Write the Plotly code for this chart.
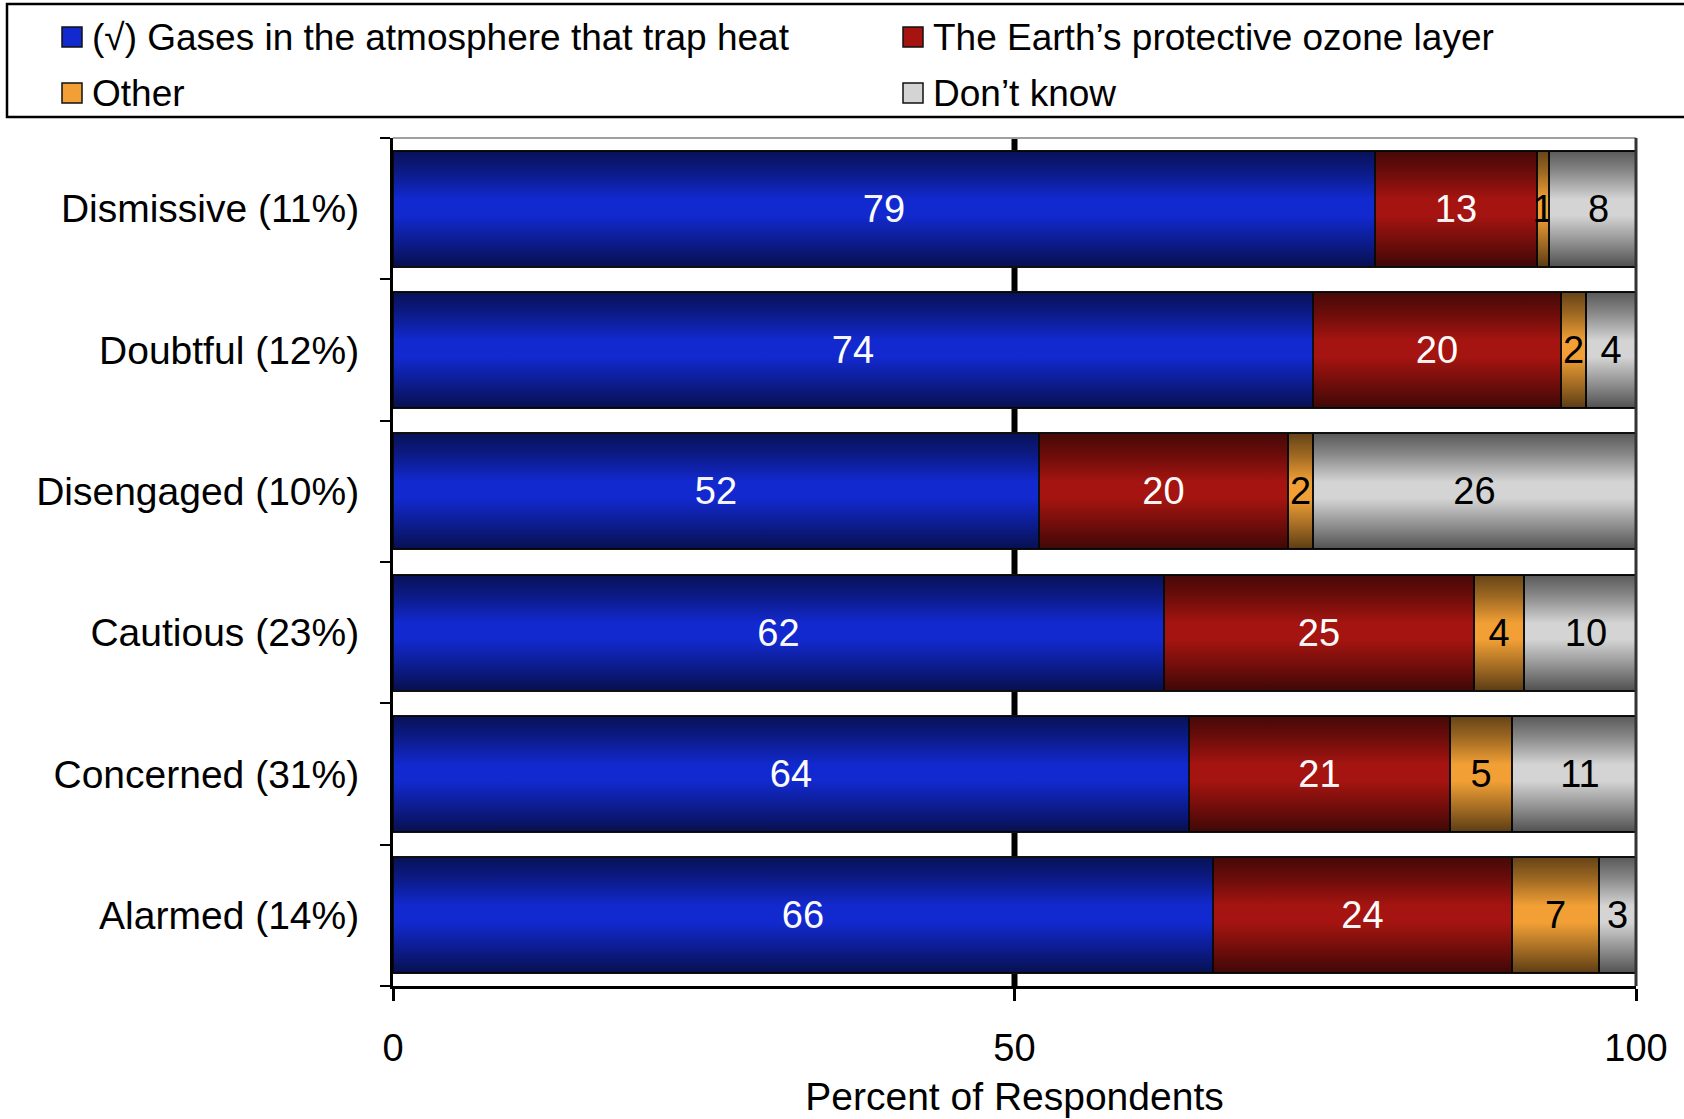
import base64
import plotly.graph_objects as go

# ---- data -------------------------------------------------------------
segments = [
    "Dismissive (11%)",
    "Doubtful (12%)",
    "Disengaged (10%)",
    "Cautious (23%)",
    "Concerned (31%)",
    "Alarmed (14%)",
]
gases = [79, 74, 52, 62, 64, 66]
ozone = [13, 20, 20, 25, 21, 24]
other = [1, 2, 2, 4, 5, 7]
dont_know = [8, 4, 26, 10, 11, 3]

series_names = [
    "(\u221a) Gases in the atmosphere that trap heat",
    "The Earth\u2019s protective ozone layer",
    "Other",
    "Don\u2019t know",
]
x_ticks = [0, 50, 100]
x_title = "Percent of Respondents"

# ---- styling ----------------------------------------------------------
FONT = "Liberation Sans, Arial, Helvetica, sans-serif"
W, H = 1684, 1119
L, R, T, B = 393, 48, 138, 133
PW, PH = W - L - R, H - T - B
BAR_W = 0.82

colors = ["#1229cf", "#a51410", "#f2a035", "#d4d4d4"]
text_colors = ["white", "white", "black", "black"]
values = [gases, ozone, other, dont_know]

rows = list(range(len(segments)))

# vertical shading used to give the bars a rounded, lit look
shade_svg = (
    '<svg xmlns="http://www.w3.org/2000/svg" width="10" height="100" '
    'viewBox="0 0 10 100" preserveAspectRatio="none">'
    '<defs><linearGradient id="g" x1="0" y1="0" x2="0" y2="1">'
    '<stop offset="0" stop-color="#000" stop-opacity="0.58"/>'
    '<stop offset="0.18" stop-color="#000" stop-opacity="0.36"/>'
    '<stop offset="0.42" stop-color="#000" stop-opacity="0"/>'
    '<stop offset="0.56" stop-color="#000" stop-opacity="0"/>'
    '<stop offset="0.82" stop-color="#000" stop-opacity="0.36"/>'
    '<stop offset="1" stop-color="#000" stop-opacity="0.62"/>'
    '</linearGradient></defs>'
    '<rect width="10" height="100" fill="url(#g)"/></svg>'
)
shade_src = "data:image/svg+xml;base64," + base64.b64encode(shade_svg.encode()).decode()


def px_x(px):
    return (px - L) / PW


def px_y(py):
    return (H - B - py) / PH


fig = go.Figure()

for name, vals, col, tcol in zip(series_names, values, colors, text_colors):
    fig.add_trace(
        go.Bar(
            name=name,
            orientation="h",
            y=rows,
            x=vals,
            width=BAR_W,
            marker=dict(color=col, line=dict(color="#111111", width=2)),
            text=[str(v) for v in vals],
            textposition="inside",
            insidetextanchor="middle",
            textangle=0,
            constraintext="none",
            textfont=dict(family=FONT, size=38, color=tcol),
            showlegend=False,
        )
    )

images = []
for i in rows:
    images.append(
        dict(
            source=shade_src, xref="x", yref="y",
            x=0, y=i - BAR_W / 2, sizex=100, sizey=BAR_W,
            xanchor="left", yanchor="top", sizing="stretch", layer="above",
        )
    )

shapes = [
    # gridline at 50 behind the bars
    dict(type="line", xref="x", yref="paper", x0=50, x1=50, y0=0, y1=1,
         line=dict(color="black", width=6), layer="below"),
    # top and right edges of the plot frame
    dict(type="line", xref="paper", yref="paper", x0=0, x1=1, y0=1, y1=1,
         line=dict(color="#a0a0a0", width=2)),
    dict(type="line", xref="paper", yref="paper", x0=1, x1=1, y0=0, y1=1,
         line=dict(color="#333333", width=3)),
    # legend box
    dict(type="rect", xref="paper", yref="paper",
         x0=px_x(7), x1=px_x(1710), y0=px_y(117), y1=px_y(4),
         line=dict(color="black", width=2.5), fillcolor="white"),
]

annotations = []
legend_items = [
    (62, 37, 0),   # gases
    (903, 37, 1),  # ozone
    (62, 93, 2),   # other
    (903, 93, 3),  # don't know
]
for sx, cy, k in legend_items:
    shapes.append(
        dict(type="rect", xref="paper", yref="paper",
             x0=px_x(sx), x1=px_x(sx + 20), y0=px_y(cy + 10), y1=px_y(cy - 10),
             line=dict(color="#111111", width=1.5), fillcolor=colors[k])
    )
    images.append(
        dict(source=shade_src, xref="paper", yref="paper",
             x=px_x(sx), y=px_y(cy - 10), sizex=20 / PW, sizey=20 / PH,
             xanchor="left", yanchor="top", sizing="stretch", layer="above")
    )
    annotations.append(
        dict(xref="paper", yref="paper", x=px_x(sx + 28), y=px_y(cy),
             xanchor="left", yanchor="middle", showarrow=False,
             text=series_names[k], font=dict(family=FONT, size=37, color="black"))
    )

fig.update_layout(
    width=W,
    height=H,
    margin=dict(l=L, r=R, t=T, b=B, pad=0),
    barmode="stack",
    bargap=0,
    paper_bgcolor="white",
    plot_bgcolor="white",
    font=dict(family=FONT, size=38, color="black"),
    shapes=shapes,
    images=images,
    annotations=annotations,
    showlegend=False,
    xaxis=dict(
        range=[0, 100],
        automargin=False,
        tickvals=x_ticks,
        ticktext=[str(v) for v in x_ticks],
        ticks="outside",
        ticklen=12,
        tickwidth=3,
        tickcolor="black",
        showline=True,
        linecolor="black",
        linewidth=3,
        showgrid=False,
        zeroline=False,
        tickfont=dict(family=FONT, size=38, color="black"),
        ticklabelstandoff=14,
        title=dict(text=x_title, font=dict(family=FONT, size=39, color="black"), standoff=16),
    ),
    yaxis=dict(
        range=[len(segments) - 0.5, -0.5],
        automargin=False,
        tickvals=rows,
        ticktext=segments,
        ticks="",
        showline=True,
        linecolor="black",
        linewidth=3,
        showgrid=False,
        zeroline=False,
        tickfont=dict(family=FONT, size=39, color="black"),
        ticklabelstandoff=23,
        minor=dict(
            tickvals=[k - 0.5 for k in range(len(segments) + 1)],
            ticks="outside",
            ticklen=10,
            tickwidth=2,
            tickcolor="black",
            showgrid=False,
        ),
    ),
)

fig.write_html("out.html")
